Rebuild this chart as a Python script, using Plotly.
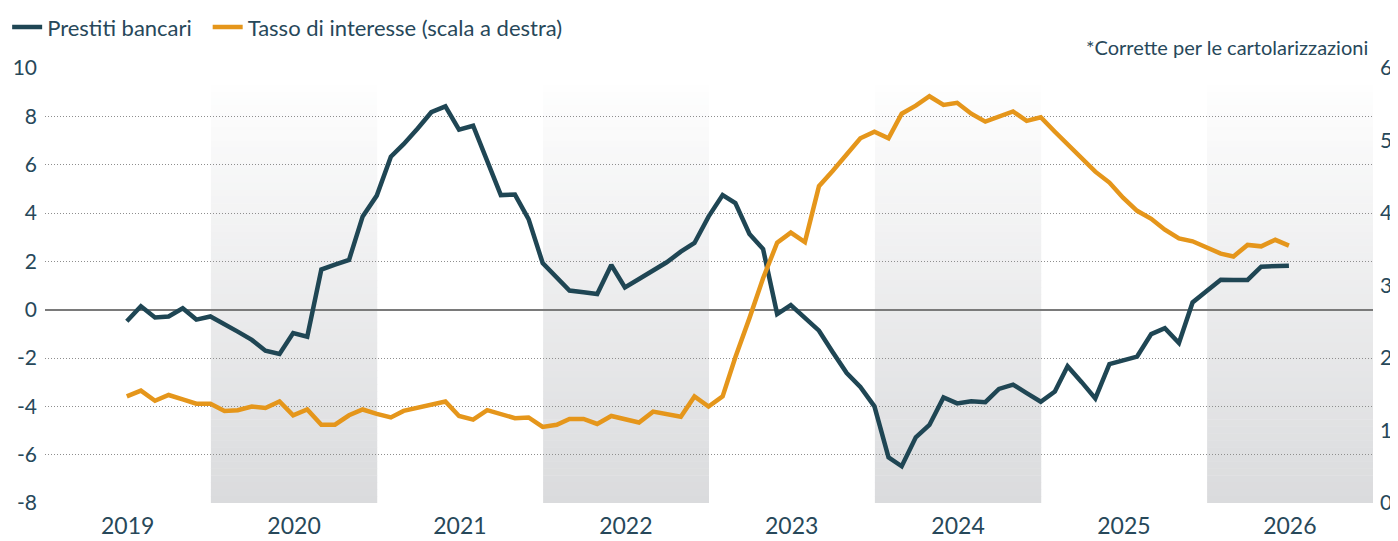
import calendar
import plotly.graph_objects as go

# ---------------- data ----------------
start_year, start_month = 2019, 6
n_points = 85

loans = [
    -0.48, 0.14, -0.32, -0.28, 0.06, -0.41, -0.28, -0.58, -0.91, -1.25,
    -1.70, -1.83, -0.97, -1.12, 1.66, 1.86, 2.06, 3.86, 4.72, 6.33,
    6.85, 7.50, 8.17, 8.41, 7.45, 7.61, 6.17, 4.74, 4.76, 3.75,
    1.93, 1.34, 0.79, 0.72, 0.65, 1.85, 0.92, 1.27, 1.61, 1.96,
    2.40, 2.76, 3.85, 4.74, 4.41, 3.13, 2.51, -0.18, 0.19, -0.35,
    -0.87, -1.75, -2.62, -3.20, -4.00, -6.11, -6.48, -5.28, -4.77, -3.63,
    -3.88, -3.79, -3.83, -3.28, -3.10, -3.45, -3.81, -3.39, -2.34, -3.00,
    -3.67, -2.25, -2.10, -1.94, -1.01, -0.77, -1.38, 0.30, 0.77, 1.24,
    1.23, 1.23, 1.78, 1.80, 1.82,
]

rate = [
    1.47, 1.55, 1.41, 1.49, 1.43, 1.37, 1.37, 1.27, 1.28, 1.33,
    1.31, 1.40, 1.21, 1.29, 1.08, 1.08, 1.21, 1.29, 1.23, 1.18,
    1.27, 1.31, 1.36, 1.40, 1.20, 1.15, 1.28, 1.23, 1.17, 1.18,
    1.05, 1.08, 1.16, 1.16, 1.09, 1.20, 1.16, 1.11, 1.26, 1.23,
    1.19, 1.47, 1.33, 1.47, 2.01, 2.55, 3.10, 3.59, 3.73, 3.60,
    4.37, 4.58, 4.80, 5.03, 5.12, 5.03, 5.37, 5.48, 5.61, 5.49,
    5.52, 5.37, 5.26, 5.33, 5.40, 5.27, 5.32, 5.12, 4.94, 4.76,
    4.57, 4.42, 4.21, 4.03, 3.92, 3.77, 3.65, 3.61, 3.52, 3.44,
    3.40, 3.56, 3.54, 3.63, 3.55,
]

years = [2019, 2020, 2021, 2022, 2023, 2024, 2025, 2026]
shaded_years = [2020, 2022, 2024, 2026]
left_ticks = [-8, -6, -4, -2, 0, 2, 4, 6, 8, 10]
right_ticks = [0, 1, 2, 3, 4, 5, 6]

series_names = ["Prestiti bancari", "Tasso di interesse (scala a destra)"]
note_text = "*Corrette per le cartolarizzazioni"

# month-end dates
dates = []
y, m = start_year, start_month
for _ in range(n_points):
    d = calendar.monthrange(y, m)[1]
    dates.append(f"{y}-{m:02d}-{d:02d}")
    m += 1
    if m > 12:
        m, y = 1, y + 1

# ---------------- style ----------------
BLUE = "#1f4654"
ORANGE = "#e5961b"
TEXT = "#27485a"
FONT = "Lato"

fig = go.Figure()

fig.add_trace(go.Scatter(
    x=dates, y=loans, name=series_names[0], mode="lines",
    line=dict(color=BLUE, width=4.5), yaxis="y", legend="legend",
))
fig.add_trace(go.Scatter(
    x=dates, y=rate, name=series_names[1], mode="lines",
    line=dict(color=ORANGE, width=4.5), yaxis="y2", legend="legend2",
))

# gradient background bands (white at top -> grey at bottom)
top_val, bot_val = 9.3, -8.0
n_strips = 60
c_top = (254, 254, 254)
c_bot = (218, 219, 221)
shapes = []
for yr in shaded_years:
    for i in range(n_strips):
        f = (i + 0.5) / n_strips
        col = tuple(round(c_top[k] + (c_bot[k] - c_top[k]) * f) for k in range(3))
        y0 = top_val - (top_val - bot_val) * i / n_strips
        y1 = top_val - (top_val - bot_val) * (i + 1) / n_strips - 0.02
        shapes.append(dict(
            type="rect", xref="x", yref="y",
            x0=f"{yr}-01-01", x1=f"{yr + 1}-01-01",
            y0=max(y1, bot_val), y1=y0,
            fillcolor="rgb(%d,%d,%d)" % col, line=dict(width=0),
            layer="below",
        ))

legend_common = dict(
    orientation="h", y=1.094, xanchor="left", yanchor="middle",
    font=dict(size=22, color=TEXT, family=FONT),
    bgcolor="rgba(0,0,0,0)", borderwidth=0, itemwidth=30,
)

fig.update_layout(
    width=1390, height=533,
    margin=dict(l=37, r=25, t=60, b=38, autoexpand=False),
    paper_bgcolor="white", plot_bgcolor="rgba(0,0,0,0)",
    font=dict(family=FONT, color=TEXT, size=20),
    shapes=shapes,
    showlegend=True,
    legend=dict(x=-0.0285, **legend_common),
    legend2=dict(x=0.1225, **legend_common),
    xaxis=dict(
        type="date", range=["2019-01-01", "2027-01-01"],
        tickvals=[f"{yr}-07-02" for yr in years],
        ticktext=[str(yr) for yr in years],
        showgrid=False, zeroline=False, showline=False, ticks="",
        tickfont=dict(size=23, color=TEXT, family=FONT),
        ticklabelstandoff=7, automargin=False,
    ),
    yaxis=dict(
        range=[-8, 10], tickvals=left_ticks,
        ticktext=[str(v) for v in left_ticks],
        showgrid=True, gridcolor="#8e8e8e", gridwidth=1, griddash="1px,2px",
        zeroline=True, zerolinecolor="#7a7a7a", zerolinewidth=1.6,
        showline=False, ticks="", automargin=False, ticklabelstandoff=7,
        tickfont=dict(size=21, color=TEXT, family=FONT),
    ),
    yaxis2=dict(
        range=[0, 6], tickvals=right_ticks,
        ticktext=[str(v) for v in right_ticks],
        overlaying="y", side="right",
        showgrid=False, zeroline=False, showline=False, ticks="",
        automargin=False, ticklabelstandoff=6,
        tickfont=dict(size=21, color=TEXT, family=FONT),
    ),
    annotations=[dict(
        text=note_text, xref="paper", yref="paper",
        x=0.998, y=1.048, xanchor="right", yanchor="middle",
        showarrow=False, font=dict(size=20, color=TEXT, family=FONT),
    )],
)

fig.write_html("out.html")
